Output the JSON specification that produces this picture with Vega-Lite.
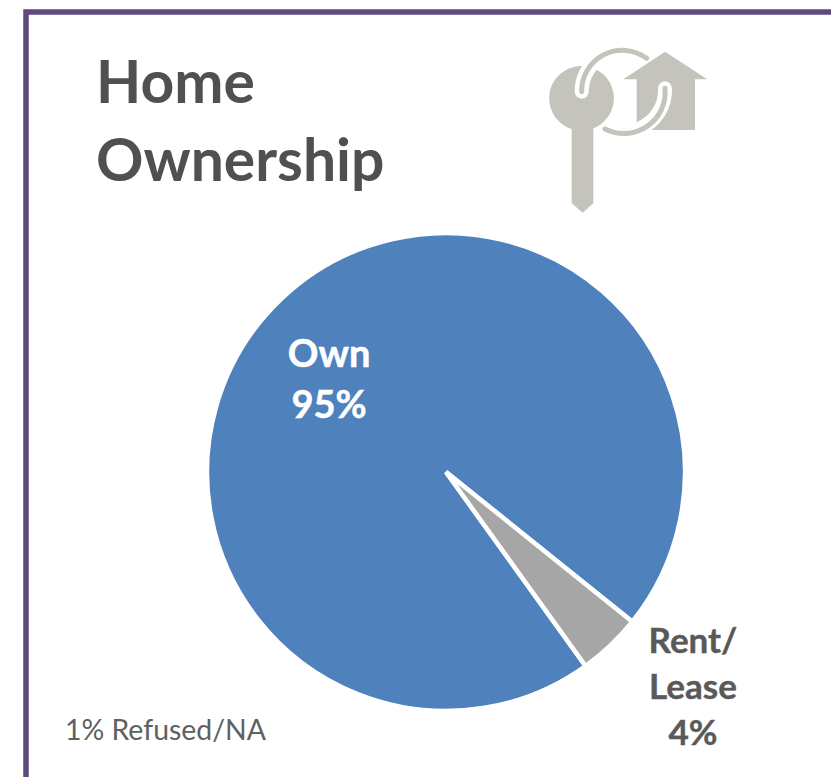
{
  "$schema": "https://vega.github.io/schema/vega-lite/v6.json",
  "width": 840,
  "height": 920,
  "autosize": "none",
  "padding": {"left": 26, "top": 12, "right": 0, "bottom": 0},
  "background": "white",
  "view": {"stroke": "#604A7B", "strokeWidth": 5.5, "fill": "white"},
  "title": {
    "text": ["Home", "Ownership"],
    "anchor": "start",
    "frame": "group",
    "orient": "top",
    "offset": 0,
    "dx": 70,
    "dy": 228,
    "font": "Lato",
    "fontSize": 58.8,
    "fontWeight": "bold",
    "color": "#505050",
    "lineHeight": 78,
    "baseline": "alphabetic"
  },
  "layer": [
    {
      "data": {"values": [
        {"category": "Own", "share": 95.7},
        {"category": "Rent/Lease", "share": 4.3}
      ]},
      "mark": {"type": "arc", "outerRadius": 239, "stroke": "white", "strokeWidth": 4.5},
      "encoding": {
        "theta": {"field": "share", "type": "quantitative", "stack": true, "scale": {"range": [2.518, 8.801]}},
        "color": {"field": "category", "type": "nominal", "legend": null, "scale": {"domain": ["Own", "Rent/Lease"], "range": ["#4F81BD", "#A6A6A6"]}}
      }
    },
    {
      "data": {"values": [{"label": "Own\n95%"}]},
      "mark": {"type": "text", "font": "Lato", "fontSize": 38, "fontWeight": "bold", "color": "white", "stroke": "white", "strokeWidth": 0.5, "align": "center", "baseline": "alphabetic", "lineBreak": "\n", "lineHeight": 51},
      "encoding": {
        "text": {"field": "label"},
        "x": {"datum": 329, "type": "quantitative", "scale": {"domain": [26, 866]}, "axis": null},
        "y": {"datum": 367, "type": "quantitative", "scale": {"domain": [932, 12]}, "axis": null}
      }
    },
    {
      "data": {"values": [{"label": "Rent/\nLease\n4%"}]},
      "mark": {"type": "text", "font": "Lato", "fontSize": 35, "fontWeight": "bold", "color": "#595959", "stroke": "#595959", "strokeWidth": 0.4, "align": "center", "baseline": "alphabetic", "lineBreak": "\n", "lineHeight": 46},
      "encoding": {
        "text": {"field": "label"},
        "x": {"datum": 693, "type": "quantitative", "scale": {"domain": [26, 866]}, "axis": null},
        "y": {"datum": 653, "type": "quantitative", "scale": {"domain": [932, 12]}, "axis": null}
      }
    },
    {
      "data": {"values": [{"label": "1% Refused/NA"}]},
      "mark": {"type": "text", "font": "Lato", "fontSize": 28.4, "color": "#606060", "align": "left", "baseline": "alphabetic"},
      "encoding": {
        "text": {"field": "label"},
        "x": {"datum": 65, "type": "quantitative", "scale": {"domain": [26, 866]}, "axis": null},
        "y": {"datum": 740, "type": "quantitative", "scale": {"domain": [932, 12]}, "axis": null}
      }
    },
    {
      "data": {"values": [{"icon": "keys", "part": "body"}]},
      "layer": [
        {"mark": {"type": "point", "filled": true, "size": 0.4444, "opacity": 1, "color": "#C4C4BC", "shape": "M-175,-3 A97,97 0 1 1 -110,-5 L-110,220 L-142,248 L-175,220 Z"}},
        {"mark": {"type": "point", "filled": true, "size": 0.4444, "opacity": 1, "color": "#C4C4BC", "shape": "M105,-235 L232,-152 L195,-152 L195,0 L20,0 L20,-152 L-20,-152 Z"}},
        {"mark": {"type": "point", "filled": false, "size": 0.4444, "opacity": 1, "color": "white", "strokeWidth": 14, "strokeCap": "round", "shape": "M-145,-115 A122,122 0 0 1 -105,-205"}},
        {"mark": {"type": "point", "filled": false, "size": 0.4444, "opacity": 1, "color": "white", "strokeWidth": 14, "strokeCap": "round", "shape": "M105,-125 A124,124 0 0 1 30,-5"}},
        {"mark": {"type": "point", "filled": false, "size": 0.4444, "opacity": 1, "color": "#C4C4BC", "strokeWidth": 5, "strokeCap": "round", "shape": "M-145,-115 A122,122 0 0 1 50,-215"}},
        {"mark": {"type": "point", "filled": false, "size": 0.4444, "opacity": 1, "color": "#C4C4BC", "strokeWidth": 5, "strokeCap": "round", "shape": "M105,-125 A124,124 0 0 1 -75,-3"}}
      ],
      "encoding": {
        "x": {"datum": 630, "type": "quantitative", "scale": {"domain": [26, 866]}, "axis": null},
        "y": {"datum": 130, "type": "quantitative", "scale": {"domain": [932, 12]}, "axis": null}
      }
    }
  ]
}
